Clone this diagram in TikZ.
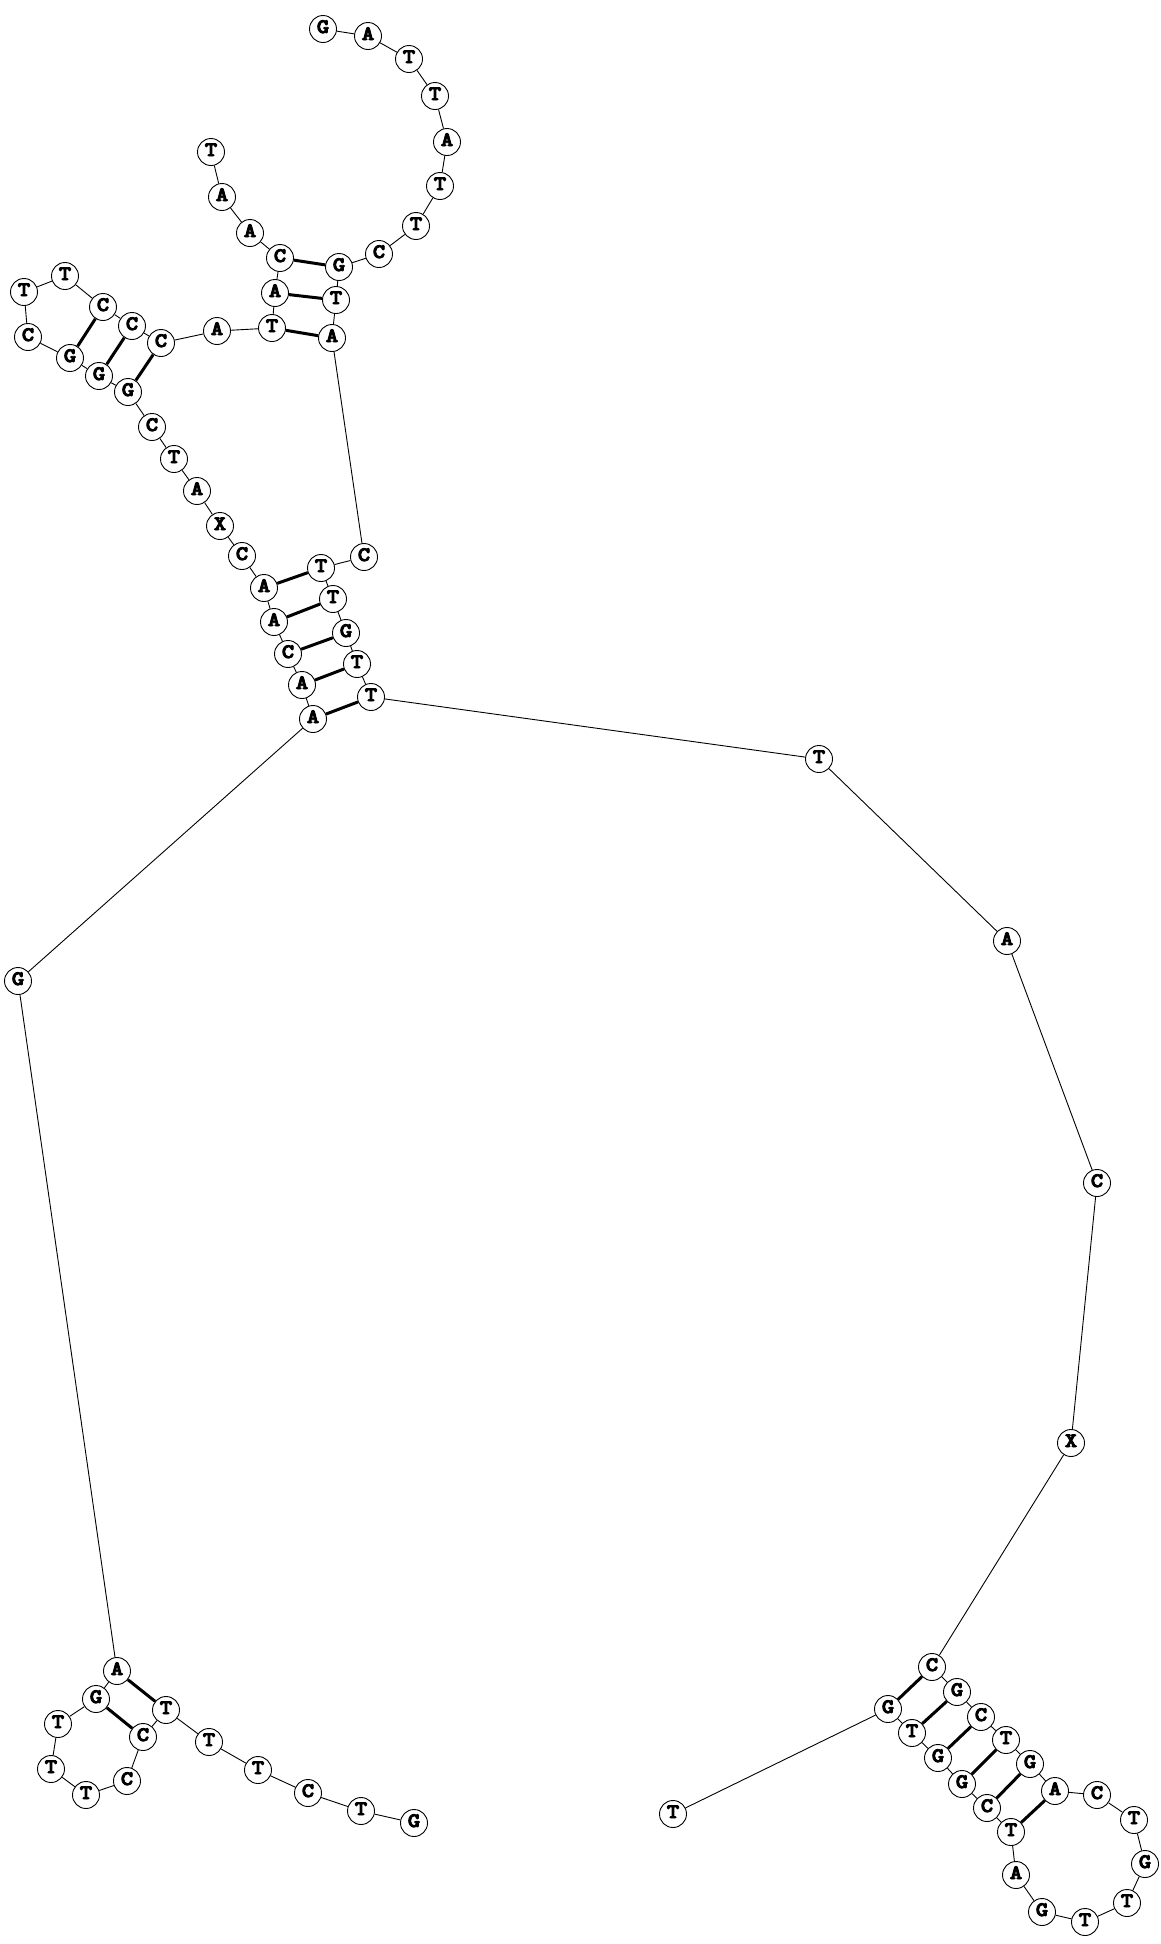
\documentclass[tikz,border=0pt]{standalone}
\usepackage{fontspec}
\newfontfamily\basefont{lmmonolt10-bold}[Extension=.otf,FakeStretch=1.15]
\newcommand\heavytext[1]{\special{pdf:literal q 2 Tr 0.9 w 1 j}#1\special{pdf:literal Q}}
\begin{document}
\begin{tikzpicture}[x=1pt,y=-1pt,
  base/.style={circle,draw,fill=white,line width=0.9pt,minimum size=27pt,inner sep=0pt,
    font=\basefont\fontsize{20.5}{20}\selectfont},
  bb/.style={line width=0.9pt},
  pairline/.style={line width=3pt}]
\useasboundingbox (0,0) rectangle (1161,1944);
% strand a
\foreach \n/\l/\x/\y in {
 a1/G/323/29, a2/A/368/36, a3/T/409/59, a4/T/435/96, a5/A/447/142, a6/T/440/186,
 a7/T/416/226, a8/C/379/254, a9/G/339/267, a10/T/336/300, a11/A/332/338,
 a12/C/364/557, a13/T/321/568, a14/T/333/599, a15/G/346/633, a16/T/357/664,
 a17/T/371/697, a18/T/819/759, a19/A/1007/941, a20/C/1097/1183, a21/X/1071/1443,
 a22/C/932/1667, a23/G/957/1692, a24/C/981/1717, a25/T/1006/1740, a26/G/1030/1764,
 a27/A/1055/1791, a28/C/1097/1795, a29/T/1134/1820, a30/G/1145/1864, a31/T/1127/1903,
 a32/T/1085/1922, a33/G/1042/1912, a34/A/1016/1875, a35/T/1011/1832, a36/C/987/1808,
 a37/G/962/1784, a38/G/938/1758, a39/T/912/1733, a40/G/888/1709, a41/T/673/1814}
 \node[base] (\n) at (\x,\y) {\strut\smash{\heavytext{\l}}};
% strand b
\foreach \n/\l/\x/\y in {
 b1/T/211/152, b2/A/222/197, b3/A/250/233, b4/C/280/258, b5/A/275/293, b6/T/272/328,
 b7/A/217/331, b8/C/161/343, b9/C/132/326, b10/C/103/307, b11/T/65/276, b12/T/24/292,
 b13/C/28/337, b14/G/70/358, b15/G/99/376, b16/G/128/392, b17/C/152/427, b18/T/174/459,
 b19/A/197/491, b20/X/220/526, b21/C/242/556, b22/A/264/588, b23/A/274/622,
 b24/C/288/654, b25/A/302/685, b26/A/313/719, b27/G/18/981, b28/A/117/1671,
 b29/G/96/1699, b30/T/58/1724, b31/T/51/1769, b32/T/86/1795, b33/C/127/1781,
 b34/C/143/1737, b35/T/166/1710, b36/T/209/1742, b37/T/258/1770, b38/C/308/1793,
 b39/T/361/1811, b40/G/414/1823}
 \node[base] (\n) at (\x,\y) {\strut\smash{\heavytext{\l}}};
% backbones
\foreach \i in {1,...,40} {
  \pgfmathtruncatemacro\j{\i+1}
  \draw[bb] (a\i) -- (a\j);
}
\foreach \i in {1,...,39} {
  \pgfmathtruncatemacro\j{\i+1}
  \draw[bb] (b\i) -- (b\j);
}
% base pairs
\foreach \p/\q in {a9/b4, a10/b5, a11/b6, b10/b14, b9/b15, b8/b16,
  b22/a13, b23/a14, b24/a15, b25/a16, b26/a17, b28/b35, b29/b34,
  a22/a40, a23/a39, a24/a38, a25/a37, a26/a36, a27/a35}
  \draw[pairline] (\p) -- (\q);
\end{tikzpicture}
\end{document}
